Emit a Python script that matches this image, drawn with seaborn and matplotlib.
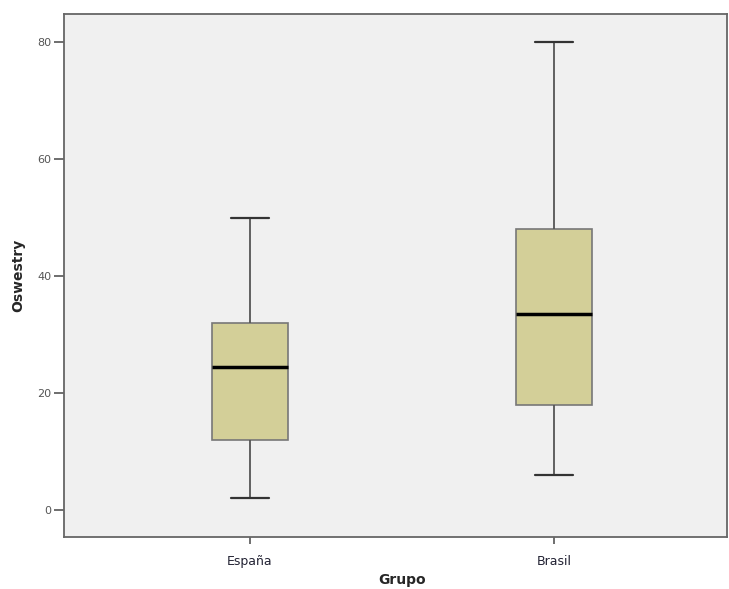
import matplotlib
matplotlib.use("Agg")
import matplotlib.pyplot as plt
import seaborn as sns
import pandas as pd

# five-number summaries (min, Q1, median, Q3, max)
groups = ['España', 'Brasil']
espana_vals = [2, 12, 24.5, 32, 50]
brasil_vals = [6, 18, 33.5, 48, 80]
y_ticks = [0, 20, 40, 60, 80]

df = pd.DataFrame({
    'Grupo': [groups[0]] * len(espana_vals) + [groups[1]] * len(brasil_vals),
    'Oswestry': espana_vals + brasil_vals,
})

sns.set_style("white")
plt.rcParams['font.family'] = ['DejaVu Sans']

fig = plt.figure(figsize=(7.29, 5.89), dpi=100)
ax = fig.add_axes([0.0878, 0.0883, 0.9095, 0.888])
ax.set_facecolor('#f0f0f0')

sns.boxplot(
    data=df, x='Grupo', y='Oswestry', order=groups, ax=ax,
    width=0.25, color='#d3cf98', saturation=1, linecolor='#555555', linewidth=1.2,
    whis=1.5, showfliers=False,
    medianprops={'color': 'black', 'linewidth': 2.5},
    capprops={'color': '#333333', 'linewidth': 1.6},
    whiskerprops={'color': '#555555', 'linewidth': 1.3},
    boxprops={'edgecolor': '#777777', 'linewidth': 1.2},
)

ax.set_ylim(-4.6, 84.8)
ax.set_xlim(-0.612, 1.57)
ax.set_yticks(y_ticks)
ax.set_yticklabels([str(t) for t in y_ticks], fontsize=8, color='#555555')
ax.set_xticks([0, 1])
ax.set_xticklabels(groups, fontsize=9, color='#222233')
ax.tick_params(axis='y', length=7, width=1.2, color='#555555', pad=2, left=True)
ax.tick_params(axis='x', length=5, width=1.2, color='#555555', pad=8, bottom=True)

for s in ax.spines.values():
    s.set_color('#666666')
    s.set_linewidth(1.3)

ax.set_ylabel('Oswestry', fontsize=10, fontweight='bold')
ax.yaxis.set_label_coords(-0.058, 0.5)
ax.set_xlabel('Grupo', fontsize=10, fontweight='bold')
ax.xaxis.set_label_coords(0.51, -0.068)

fig.savefig('out.png', dpi=100)
